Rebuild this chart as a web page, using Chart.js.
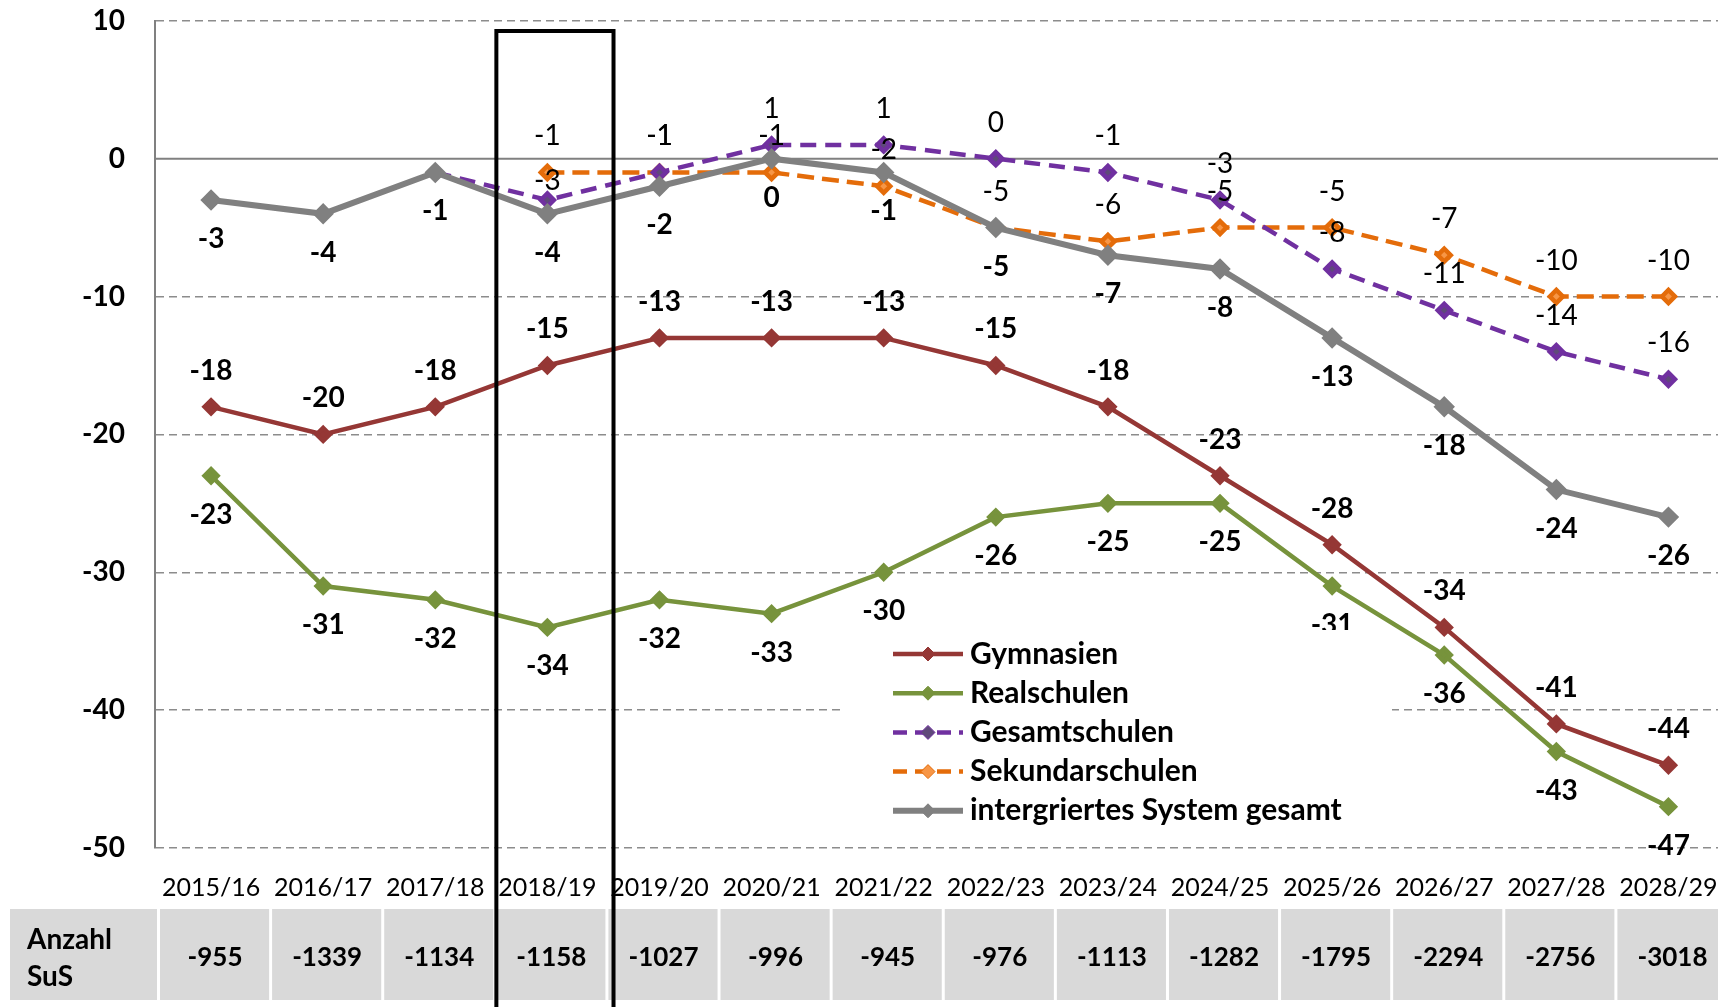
<!DOCTYPE html>
<html>
<head>
<meta charset="utf-8">
<title>Schülerzahlen</title>
<script src="https://cdn.jsdelivr.net/npm/chart.js@4.4.1/dist/chart.umd.min.js"></script>
<style>
  html, body { margin: 0; padding: 0; overflow: hidden; background: #fff; }
  #wrap { width: 1737px; height: 1007px; position: relative; }
</style>
</head>
<body>
<div id="wrap"><canvas id="schoolChart"></canvas></div>
<script>
// Data
const years = ["2015/16", "2016/17", "2017/18", "2018/19", "2019/20", "2020/21", "2021/22",
  "2022/23", "2023/24", "2024/25", "2025/26", "2026/27", "2027/28", "2028/29"];
const gymnasien = [-18, -20, -18, -15, -13, -13, -13, -15, -18, -23, -28, -34, -41, -44];
const realschulen = [-23, -31, -32, -34, -32, -33, -30, -26, -25, -25, -31, -36, -43, -47];
const gesamtschulen = [null, null, -1, -3, -1, 1, 1, 0, -1, -3, -8, -11, -14, -16];
const sekundarschulen = [null, null, null, -1, -1, -1, -2, -5, -6, -5, -5, -7, -10, -10];
const integriert = [-3, -4, -1, -4, -2, 0, -1, -5, -7, -8, -13, -18, -24, -26];
const anzahlSuS = [-955, -1339, -1134, -1158, -1027, -996, -945, -976, -1113, -1282, -1795, -2294, -2756, -3018];
const tableHead = ["Anzahl", "SuS"];
const markedYear = "2018/19";

const FONT = "Lato, 'Liberation Sans', sans-serif";

// draw value labels next to each point
const pointLabels = {
  id: "pointLabels",
  afterDatasetsDraw(chart, args, opts) {
    const ctx = chart.ctx;
    chart.data.datasets.forEach((ds, di) => {
      const meta = chart.getDatasetMeta(di);
      const tweak = opts.tweaks[ds.label] || {};
      ctx.save();
      ctx.font = (ds.labelBold ? "bold 28px " : "28px ") + FONT;
      ctx.fillStyle = "#000";
      ctx.textAlign = "center";
      ctx.textBaseline = "middle";
      meta.data.forEach((pt, i) => {
        const v = ds.data[i];
        if (v === null || tweak[i] === "hide") return;
        const dy = tweak[i] !== undefined ? tweak[i] : ds.labelOffset;
        ctx.fillText(String(v), pt.x, pt.y + dy);
      });
      ctx.restore();
    });
  }
};

// solid line at zero
const zeroLine = {
  id: "zeroLine",
  beforeDatasetsDraw(chart) {
    const { ctx, chartArea, scales } = chart;
    const y = scales.y.getPixelForValue(0);
    ctx.save();
    ctx.strokeStyle = "#808080";
    ctx.lineWidth = 2;
    ctx.beginPath();
    ctx.moveTo(chartArea.left, y);
    ctx.lineTo(chartArea.right, y);
    ctx.stroke();
    ctx.restore();
  }
};

// legend inside the plot, on a white box
const boxLegend = {
  id: "boxLegend",
  afterDatasetsDraw(chart, args, opts) {
    const ctx = chart.ctx;
    ctx.save();
    ctx.fillStyle = "#fff";
    ctx.fillRect(opts.x, opts.y, opts.w, opts.h);
    ctx.font = "bold 30px " + FONT;
    ctx.textBaseline = "middle";
    ctx.textAlign = "left";
    chart.data.datasets.forEach((ds) => {
      const y = opts.firstRow + ds.legendRow * opts.rowGap;
      ctx.strokeStyle = ds.borderColor;
      ctx.lineWidth = ds.borderWidth;
      ctx.setLineDash(ds.borderDash ? [14, 8] : []);
      ctx.beginPath();
      ctx.moveTo(opts.lineX, y);
      ctx.lineTo(opts.lineX + opts.lineLen, y);
      ctx.stroke();
      ctx.setLineDash([]);
      const r = 7, mx = opts.lineX + opts.lineLen / 2;
      ctx.beginPath();
      ctx.moveTo(mx, y - r);
      ctx.lineTo(mx + r, y);
      ctx.lineTo(mx, y + r);
      ctx.lineTo(mx - r, y);
      ctx.closePath();
      ctx.fillStyle = ds.pointBackgroundColor;
      ctx.fill();
      ctx.lineWidth = 1;
      ctx.strokeStyle = ds.pointBorderColor;
      ctx.stroke();
      ctx.fillStyle = "#000";
      ctx.fillText(ds.label, opts.textX, y);
    });
    ctx.restore();
  }
};

// table row "Anzahl SuS" below the axis, then the highlight frame
const sumTable = {
  id: "sumTable",
  afterDraw(chart, args, opts) {
    const ctx = chart.ctx;
    const x = chart.scales.x;
    const step = x.getPixelForValue(1) - x.getPixelForValue(0);
    ctx.save();
    ctx.fillStyle = "#d9d9d9";
    const firstLeft = x.getPixelForValue(0) - step / 2 + opts.shift;
    ctx.fillRect(opts.left, opts.top, firstLeft - 3 - opts.left, opts.height);
    anzahlSuS.forEach((v, i) => {
      const cx = x.getPixelForValue(i) + opts.shift;
      ctx.fillRect(cx - step / 2, opts.top, step - 3, opts.height);
    });
    ctx.fillStyle = "#000";
    ctx.font = "bold 28px " + FONT;
    ctx.textBaseline = "middle";
    ctx.textAlign = "left";
    ctx.fillText(tableHead[0], opts.left + 17, opts.top + 31);
    ctx.fillText(tableHead[1], opts.left + 17, opts.top + 68);
    ctx.font = "bold 26px " + FONT;
    ctx.textAlign = "center";
    anzahlSuS.forEach((v, i) => {
      const cx = x.getPixelForValue(i) + opts.shift;
      ctx.fillText(String(v), cx - 1, opts.top + 49);
    });

    // frame around the marked school year
    const mx = x.getPixelForValue(years.indexOf(markedYear));
    ctx.strokeStyle = "#000";
    ctx.lineWidth = 4;
    ctx.beginPath();
    ctx.moveTo(mx - step * 0.455, chart.height + 10);
    ctx.lineTo(mx - step * 0.455, opts.frameTop);
    ctx.lineTo(mx + step * 0.59, opts.frameTop);
    ctx.lineTo(mx + step * 0.59, chart.height + 10);
    ctx.stroke();
    ctx.restore();
  }
};

const ctx = document.getElementById("schoolChart").getContext("2d");
new Chart(ctx, {
  type: "line",
  data: {
    labels: years,
    datasets: [
      {
        label: "Gymnasien",
        data: gymnasien,
        borderColor: "#953735",
        pointBackgroundColor: "#953735",
        pointBorderColor: "#953735",
        borderWidth: 4.5,
        labelOffset: -36,
        labelBold: true,
        legendRow: 0,
        order: 3
      },
      {
        label: "Realschulen",
        data: realschulen,
        borderColor: "#77933C",
        pointBackgroundColor: "#77933C",
        pointBorderColor: "#77933C",
        borderWidth: 4.5,
        labelOffset: 39,
        labelBold: true,
        legendRow: 1,
        order: 4
      },
      {
        label: "Gesamtschulen",
        data: gesamtschulen,
        borderColor: "#7030A0",
        pointBackgroundColor: "#5F497A",
        pointBorderColor: "#7030A0",
        borderWidth: 4.5,
        borderDash: [16, 9],
        labelOffset: -36,
        labelBold: false,
        legendRow: 2,
        order: 1
      },
      {
        label: "Sekundarschulen",
        data: sekundarschulen,
        borderColor: "#E46C0A",
        pointBackgroundColor: "#F79646",
        pointBorderColor: "#E46C0A",
        borderWidth: 4.5,
        borderDash: [17, 8],
        labelOffset: -36,
        labelBold: false,
        legendRow: 3,
        order: 2
      },
      {
        label: "intergriertes System gesamt",
        data: integriert,
        borderColor: "#808080",
        pointBackgroundColor: "#808080",
        pointBorderColor: "#808080",
        borderWidth: 6,
        labelOffset: 39,
        labelBold: true,
        legendRow: 4,
        order: 0
      }
    ]
  },
  options: {
    responsive: true,
    maintainAspectRatio: false,
    animation: false,
    spanGaps: false,
    layout: { padding: { top: 19, right: 6, bottom: 0, left: 0 } },
    elements: {
      line: { tension: 0, borderCapStyle: "butt" },
      point: { pointStyle: "rectRot", radius: 6.5, borderWidth: 1 }
    },
    plugins: {
      legend: { display: false },
      tooltip: { enabled: false },
      pointLabels: { tweaks: { "Gesamtschulen": { 2: "hide", 3: -19 } } },
      boxLegend: { x: 844, y: 630, w: 548, h: 205, firstRow: 654, rowGap: 39.2, lineX: 893, lineLen: 70, textX: 970 },
      sumTable: { left: 10, top: 909, height: 91, shift: 5, frameTop: 31 }
    },
    scales: {
      x: {
        offset: true,
        grid: {
          display: true,
          offset: true,
          drawOnChartArea: false,
          drawTicks: true,
          tickLength: 22,
          tickColor: "rgba(0,0,0,0)"
        },
        border: { display: false },
        ticks: { color: "#000", font: { family: FONT, size: 25 }, padding: 3, maxRotation: 0, autoSkip: false },
        afterFit: (scale) => { scale.height = 159; }
      },
      y: {
        min: -50,
        max: 10,
        ticks: { stepSize: 10, color: "#000", font: { family: FONT, size: 28, weight: "bold" }, padding: 4 },
        grid: {
          drawTicks: true,
          tickLength: 26,
          tickColor: "rgba(0,0,0,0)",
          color: (c) => (c.tick && c.tick.value === 0 ? "rgba(0,0,0,0)" : "#8c8c8c"),
          lineWidth: 1.5
        },
        border: { display: true, color: "#808080", width: 2, dash: [8, 5] },
        afterFit: (scale) => { scale.width = 155; }
      }
    }
  },
  plugins: [zeroLine, pointLabels, boxLegend, sumTable]
});
</script>
</body>
</html>
